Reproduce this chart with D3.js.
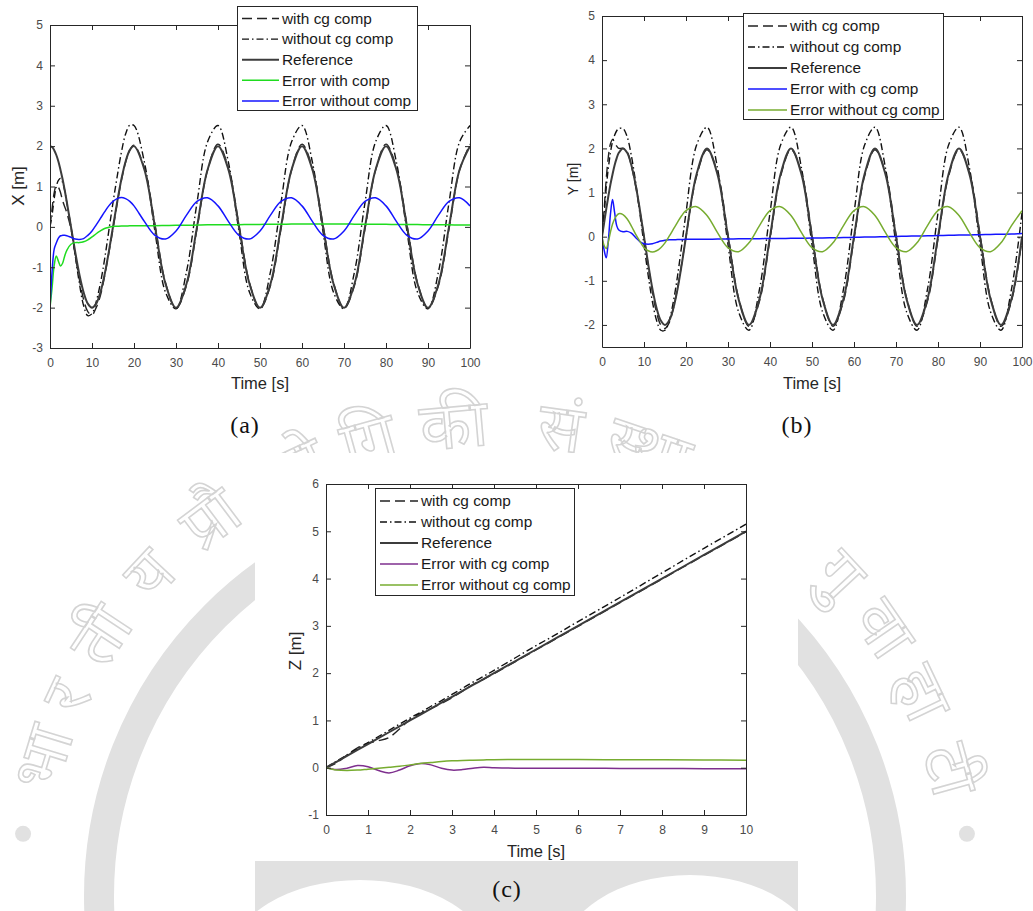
<!DOCTYPE html>
<html lang="en">
<head>
<meta charset="UTF-8">
<title>Position tracking with and without cg compensation</title>
<script src="https://d3js.org/d3.v7.min.js"></script>
<style>
  body { margin: 0; background: #fff; }
  svg { display: block; }
  svg text { font-family: "Liberation Sans", Arial, sans-serif; }
</style>
</head>
<body>
<svg width="1033" height="911"></svg>
<script>
// ---- data ----
// time samples for the X and Y runs [s]
const tXY = [0,0.5,1,1.5,2,2.5,3,3.5,4,5,6,7,8,9,10,11,12,13,14,15,16,17,18,19,20,
  22.5,25,27.5,30,32.5,35,37.5,40,42.5,45,47.5,50,52.5,55,57.5,60,
  62.5,65,67.5,70,72.5,75,77.5,80,82.5,85,87.5,90,92.5,95,97.5,100];

// (a) X [m]
const xWith = [0,0.45,0.85,1.02,0.98,0.85,0.65,0.5,0.35,-0.05,-0.7,-1.3,-1.8,-2.1,-2.18,-2.0,-1.7,-1.22,-0.65,-0.05,0.58,1.15,1.6,1.9,2.02,
  1.45,0.05,-1.38,-2.02,-1.45,-0.05,1.40,2.05, 1.45,0.05,-1.38,-2.02,-1.45,-0.05,1.40,2.05,
  1.45,0.05,-1.38,-2.02,-1.45,-0.05,1.40,2.05, 1.45,0.05,-1.38,-2.02,-1.45,-0.05,1.40,2.05];
const xWithout = [0,0.3,0.7,1.0,1.15,1.2,1.1,0.9,0.6,0.0,-0.7,-1.4,-1.95,-2.2,-2.15,-1.85,-1.4,-0.8,-0.1,0.6,1.25,1.85,2.3,2.52,2.51,
  1.59,-0.12,-1.62,-2.03,-1.11,0.60,2.10,2.51, 1.59,-0.12,-1.62,-2.03,-1.11,0.60,2.10,2.51,
  1.59,-0.12,-1.62,-2.03,-1.11,0.60,2.10,2.51, 1.59,-0.12,-1.62,-2.03,-1.11,0.60,2.10,2.51];
const xRef = [2,1.98,1.90,1.78,1.62,1.41,1.18,0.91,0.62,0,-0.62,-1.18,-1.62,-1.90,-2,-1.90,-1.62,-1.18,-0.62,0,0.62,1.18,1.62,1.90,2,
  1.41,0,-1.41,-2,-1.41,0,1.41,2, 1.41,0,-1.41,-2,-1.41,0,1.41,2,
  1.41,0,-1.41,-2,-1.41,0,1.41,2, 1.41,0,-1.41,-2,-1.41,0,1.41,2];
const xErrWith = [-2,-1.5,-0.95,-0.72,-0.85,-0.97,-0.9,-0.72,-0.58,-0.43,-0.39,-0.39,-0.37,-0.32,-0.25,-0.17,-0.1,-0.04,-0.01,0.01,0.015,0.02,0.02,0.025,0.025,
  0.03,0.03,0.035,0.04,0.04,0.045,0.05,0.05, 0.055,0.055,0.06,0.06,0.065,0.065,0.07,0.07,
  0.07,0.07,0.07,0.07,0.068,0.066,0.064,0.062, 0.06,0.058,0.056,0.054,0.052,0.05,0.048,0.046];
const xErrWithout = [-2,-1.1,-0.55,-0.4,-0.28,-0.22,-0.21,-0.21,-0.22,-0.26,-0.30,-0.31,-0.29,-0.21,-0.10,0.05,0.21,0.37,0.52,0.63,0.70,0.73,0.70,0.63,0.52,
  0.13,-0.21,-0.30,-0.10,0.29,0.63,0.72,0.52, 0.13,-0.21,-0.30,-0.10,0.29,0.63,0.72,0.52,
  0.13,-0.21,-0.30,-0.10,0.29,0.63,0.72,0.52, 0.13,-0.21,-0.30,-0.10,0.29,0.63,0.72,0.52];

// (b) Y [m]
const yWith = [0,0.6,1.3,1.8,2.1,2.2,2.15,2.05,2.0,2.0,1.92,1.6,1.15,0.6,0.0,-0.65,-1.25,-1.72,-2.0,-2.08,-1.95,-1.62,-1.15,-0.6,0.0,
  1.36,1.97,1.45,0.05,-1.38,-2.03,-1.46,-0.05, 1.36,1.97,1.45,0.05,-1.38,-2.03,-1.46,-0.05,
  1.36,1.97,1.45,0.05,-1.38,-2.03,-1.46,-0.05, 1.36,1.97,1.45,0.05,-1.38,-2.03,-1.46,-0.05];
const yWithout = [0,0.5,1.1,1.55,1.9,2.15,2.3,2.4,2.45,2.45,2.26,1.83,1.24,0.54,-0.18,-0.88,-1.47,-1.90,-2.12,-2.12,-1.90,-1.47,-0.88,-0.18,0.54,
  2.07,2.48,1.55,-0.18,-1.70,-2.12,-1.19,0.54, 2.07,2.48,1.55,-0.18,-1.70,-2.12,-1.19,0.54,
  2.07,2.48,1.55,-0.18,-1.70,-2.12,-1.19,0.54, 2.07,2.48,1.55,-0.18,-1.70,-2.12,-1.19,0.54];
const yRef = [0,0.31,0.62,0.91,1.18,1.41,1.62,1.78,1.90,2,1.90,1.62,1.18,0.62,0,-0.62,-1.18,-1.62,-1.90,-2,-1.90,-1.62,-1.18,-0.62,0,
  1.41,2,1.41,0,-1.41,-2,-1.41,0, 1.41,2,1.41,0,-1.41,-2,-1.41,0,
  1.41,2,1.41,0,-1.41,-2,-1.41,0, 1.41,2,1.41,0,-1.41,-2,-1.41,0];
const yErrWith = [0,-0.3,-0.48,-0.1,0.5,0.84,0.55,0.25,0.15,0.11,0.12,0.08,-0.02,-0.11,-0.16,-0.17,-0.16,-0.13,-0.1,-0.08,-0.07,-0.07,-0.065,-0.065,-0.06,
  -0.06,-0.058,-0.055,-0.053,-0.05,-0.048,-0.045,-0.043, -0.04,-0.038,-0.035,-0.032,-0.03,-0.025,-0.02,-0.015,
  -0.01,-0.005,0,0.005,0.01,0.015,0.02,0.025, 0.03,0.035,0.04,0.045,0.05,0.055,0.06,0.07];
const yErrWithout = [0,-0.2,-0.27,-0.12,0.1,0.28,0.4,0.48,0.52,0.5,0.4,0.24,0.06,-0.1,-0.25,-0.32,-0.35,-0.32,-0.25,-0.14,0.01,0.17,0.33,0.48,0.59,
  0.68,0.48,0.09,-0.25,-0.34,-0.14,0.25,0.59, 0.68,0.48,0.09,-0.25,-0.34,-0.14,0.25,0.59,
  0.68,0.48,0.09,-0.25,-0.34,-0.14,0.25,0.59, 0.68,0.48,0.09,-0.25,-0.34,-0.14,0.25,0.59];

// (c) Z [m]
const tZ = [0,0.25,0.5,0.75,1,1.25,1.5,1.75,2,2.25,2.5,2.75,3,3.25,3.5,3.75,4,4.5,5,5.5,6,7,8,9,10];
const zWith = [0,0.1,0.27,0.42,0.52,0.57,0.64,0.82,1.02,1.15,1.25,1.36,1.48,1.62,1.76,1.87,1.99,2.24,2.49,2.74,2.99,3.49,3.99,4.49,4.99];
const zWithout = [0,0.14,0.27,0.4,0.53,0.66,0.79,0.92,1.05,1.17,1.3,1.42,1.55,1.68,1.81,1.93,2.06,2.32,2.58,2.83,3.09,3.6,4.12,4.64,5.15];
const zRef = [0,0.125,0.25,0.375,0.5,0.625,0.75,0.875,1,1.125,1.25,1.375,1.5,1.625,1.75,1.875,2,2.25,2.5,2.75,3,3.5,4,4.5,5];
const zErrWith = [0,-0.04,-0.01,0.045,0.02,-0.06,-0.11,-0.05,0.04,0.09,0.06,-0.01,-0.05,-0.04,-0.01,0.01,0,-0.01,-0.01,-0.01,-0.01,-0.015,-0.015,-0.02,-0.02];
const zErrWithout = [0,-0.05,-0.06,-0.05,-0.03,-0.01,0.01,0.03,0.06,0.09,0.11,0.13,0.145,0.155,0.16,0.165,0.17,0.175,0.175,0.175,0.172,0.17,0.168,0.165,0.16];

// ticks
const xTicksXY = [0,10,20,30,40,50,60,70,80,90,100];
const xTicksZ = [0,1,2,3,4,5,6,7,8,9,10];
const yTicksA = [-3,-2,-1,0,1,2,3,4,5];
const yTicksB = [-2,-1,0,1,2,3,4,5];
const yTicksC = [-1,0,1,2,3,4,5,6];

// legend labels
const legendA = ["with cg comp", "without cg comp", "Reference", "Error with comp", "Error without comp"];
const legendBC = ["with cg comp", "without cg comp", "Reference", "Error with cg comp", "Error without cg comp"];

// watermark seal: visible syllables and their angle (deg, clockwise from top)
const sealGlyphs = ["भा", "र", "ती", "य", "प्रौ", "द्यो", "गि", "की", "सं", "स्था", "गु", "वा", "हा", "टी"];
const sealAngles = [-73, -65, -56.5, -47, -37, -25, -15.5, -5, 8, 19, 47, 55.5, 64.5, 74.5];

const svg = d3.select("svg");

// ---- faint seal in the background ----
const wm = svg.append("g");
const cx = 495, cy = 896;
const seal = "#e1e1e1";
wm.append("circle").attr("cx", cx).attr("cy", cy).attr("r", 396)
  .attr("fill", "none").attr("stroke", seal).attr("stroke-width", 30);
[-82.5, 82.5].forEach(a => {
  const r = 476, rad = a * Math.PI / 180;
  wm.append("circle").attr("cx", cx + r * Math.sin(rad)).attr("cy", cy - r * Math.cos(rad))
    .attr("r", 8).attr("fill", seal);
});
const rb = 450;
sealGlyphs.forEach((s, i) => {
  const a = sealAngles[i], rad = a * Math.PI / 180;
  wm.append("text")
    .attr("transform", `translate(${cx + rb * Math.sin(rad)},${cy - rb * Math.cos(rad)}) rotate(${a})`)
    .attr("text-anchor", "middle")
    .style("font-family", "'Noto Sans Devanagari', 'Noto Sans', sans-serif")
    .attr("font-size", 66).attr("fill", "none").attr("stroke", "#d4d4d4").attr("stroke-width", 1.6)
    .text(s);
});
// lower part of the emblem peeking out below panel (c)
wm.append("rect").attr("x", 255).attr("y", 861).attr("width", 543).attr("height", 50).attr("fill", seal);
wm.append("ellipse").attr("cx", 360).attr("cy", 960).attr("rx", 130).attr("ry", 80).attr("fill", "#fff");
wm.append("ellipse").attr("cx", 690).attr("cy", 960).attr("rx", 130).attr("ry", 85).attr("fill", "#fff");

// white card behind panel (c)
svg.append("rect").attr("x", 255).attr("y", 453).attr("width", 543).attr("height", 408).attr("fill", "#fff");

// ---- panels ----
const DASH = "10,5", DASHDOT = "7,3,1.5,3";
const styles = {
  with:    {color: "#222", width: 1.4, dash: DASH},
  without: {color: "#111", width: 1.4, dash: DASHDOT},
  ref:     {color: "#3c3c3c", width: 2, dash: null}
};

const panels = [
  {id: "a", left: 50, right: 470, top: 25, bottom: 348, xDomain: [0, 100], yDomain: [-3, 5],
   xTicks: xTicksXY, yTicks: yTicksA, t: tXY, ylabel: "X [m]", ylabelPos: [18, 186], ylabelSize: 17,
   xlabelPos: [260, 389], tag: "(a)", tagPos: [245, 433],
   series: [
     {v: xWith, ...styles.with}, {v: xWithout, ...styles.without}, {v: xRef, ...styles.ref},
     {v: xErrWith, color: "#1fdc1f", width: 1.5, dash: null},
     {v: xErrWithout, color: "#1414ff", width: 1.5, dash: null}],
   legend: {labels: legendA, x0: 237, y0: 6, w: 180, h: 104, first: 12.5, step: 20.6, line: 37}},
  {id: "b", left: 602, right: 1022, top: 16, bottom: 347, xDomain: [0, 100], yDomain: [-2.5, 5],
   xTicks: xTicksXY, yTicks: yTicksB, t: tXY, ylabel: "Y [m]", ylabelPos: [573, 179], ylabelSize: 14,
   xlabelPos: [812, 389], tag: "(b)", tagPos: [797, 433],
   series: [
     {v: yWith, ...styles.with}, {v: yWithout, ...styles.without}, {v: yRef, ...styles.ref},
     {v: yErrWith, color: "#1414ff", width: 1.5, dash: null},
     {v: yErrWithout, color: "#77ac30", width: 1.5, dash: null}],
   legend: {labels: legendBC, x0: 743, y0: 13, w: 200, h: 106, first: 13, step: 21, line: 39}},
  {id: "c", left: 326, right: 746, top: 484, bottom: 815, xDomain: [0, 10], yDomain: [-1, 6],
   xTicks: xTicksZ, yTicks: yTicksC, t: tZ, ylabel: "Z [m]", ylabelPos: [295, 651], ylabelSize: 17,
   xlabelPos: [536, 857], tag: "(c)", tagPos: [507, 897],
   series: [
     {v: zWith, ...styles.with}, {v: zWithout, ...styles.without}, {v: zRef, ...styles.ref},
     {v: zErrWith, color: "#7e2f8e", width: 1.5, dash: null},
     {v: zErrWithout, color: "#77ac30", width: 1.5, dash: null}],
   legend: {labels: legendBC, x0: 375, y0: 488, w: 199, h: 107, first: 13, step: 21, line: 38}}
];

panels.forEach(drawPanel);

function styleAxis(g) {
  g.selectAll(".domain").attr("stroke", "#262626").attr("stroke-width", 1);
  g.selectAll(".tick line").attr("stroke", "#262626");
  g.selectAll(".tick text").attr("fill", "#4a4a4a")
    .style("font-family", "'Liberation Sans', Arial, sans-serif").attr("font-size", 12);
}

function drawPanel(p) {
  const x = d3.scaleLinear().domain(p.xDomain).range([p.left, p.right]);
  const y = d3.scaleLinear().domain(p.yDomain).range([p.bottom, p.top]);
  const g = svg.append("g");
  const fmt = d => String(d);

  g.append("clipPath").attr("id", "clip-" + p.id).append("rect")
    .attr("x", p.left).attr("y", p.top).attr("width", p.right - p.left).attr("height", p.bottom - p.top);

  // curves
  const line = d3.line()
    .x((d, i) => x(p.t[i]))
    .y(d => y(d))
    .curve(d3.curveCatmullRom.alpha(0.5));
  const plot = g.append("g").attr("clip-path", `url(#clip-${p.id})`);
  p.series.forEach(s => {
    plot.append("path").datum(s.v)
      .attr("fill", "none").attr("stroke", s.color).attr("stroke-width", s.width)
      .attr("stroke-dasharray", s.dash).attr("stroke-linejoin", "round")
      .attr("d", line);
  });

  // box axes, ticks pointing inwards on all four sides
  g.append("g").attr("transform", `translate(0,${p.bottom})`)
    .call(d3.axisBottom(x).tickValues(p.xTicks).tickSizeInner(-5).tickSizeOuter(0).tickPadding(10).tickFormat(fmt))
    .call(styleAxis);
  g.append("g").attr("transform", `translate(0,${p.top})`)
    .call(d3.axisTop(x).tickValues(p.xTicks).tickSizeInner(-5).tickSizeOuter(0).tickFormat(""))
    .call(styleAxis);
  g.append("g").attr("transform", `translate(${p.left},0)`)
    .call(d3.axisLeft(y).tickValues(p.yTicks).tickSizeInner(-5).tickSizeOuter(0).tickPadding(7).tickFormat(fmt))
    .call(styleAxis);
  g.append("g").attr("transform", `translate(${p.right},0)`)
    .call(d3.axisRight(y).tickValues(p.yTicks).tickSizeInner(-5).tickSizeOuter(0).tickFormat(""))
    .call(styleAxis);

  // axis titles
  g.append("text").attr("x", p.xlabelPos[0]).attr("y", p.xlabelPos[1])
    .attr("text-anchor", "middle").attr("font-size", 16.5).attr("fill", "#262626").text("Time [s]");
  g.append("text")
    .attr("transform", `translate(${p.ylabelPos[0]},${p.ylabelPos[1]}) rotate(-90)`)
    .attr("text-anchor", "middle").attr("dy", "0.35em")
    .attr("font-size", p.ylabelSize).attr("fill", "#262626").text(p.ylabel);

  // legend
  const L = p.legend;
  const lg = g.append("g");
  lg.append("rect").attr("x", L.x0 + 0.5).attr("y", L.y0 + 0.5).attr("width", L.w).attr("height", L.h)
    .attr("fill", "#fff").attr("stroke", "#262626").attr("stroke-width", 1);
  p.series.forEach((s, i) => {
    const ry = L.y0 + L.first + i * L.step;
    lg.append("line").attr("x1", L.x0 + 5).attr("x2", L.x0 + 5 + L.line).attr("y1", ry).attr("y2", ry)
      .attr("stroke", s.color).attr("stroke-width", s.width).attr("stroke-dasharray", s.dash);
    lg.append("text").attr("x", L.x0 + 8 + L.line).attr("y", ry).attr("dy", "0.35em")
      .attr("font-size", 15.4).attr("fill", "#1a1a1a").text(L.labels[i]);
  });

  // sub-figure tag
  svg.append("text").attr("x", p.tagPos[0]).attr("y", p.tagPos[1]).attr("text-anchor", "middle")
    .style("font-family", "'Liberation Serif', 'DejaVu Serif', serif")
    .attr("font-size", 24).attr("letter-spacing", 1).attr("fill", "#111").text(p.tag);
}
</script>
</body>
</html>
